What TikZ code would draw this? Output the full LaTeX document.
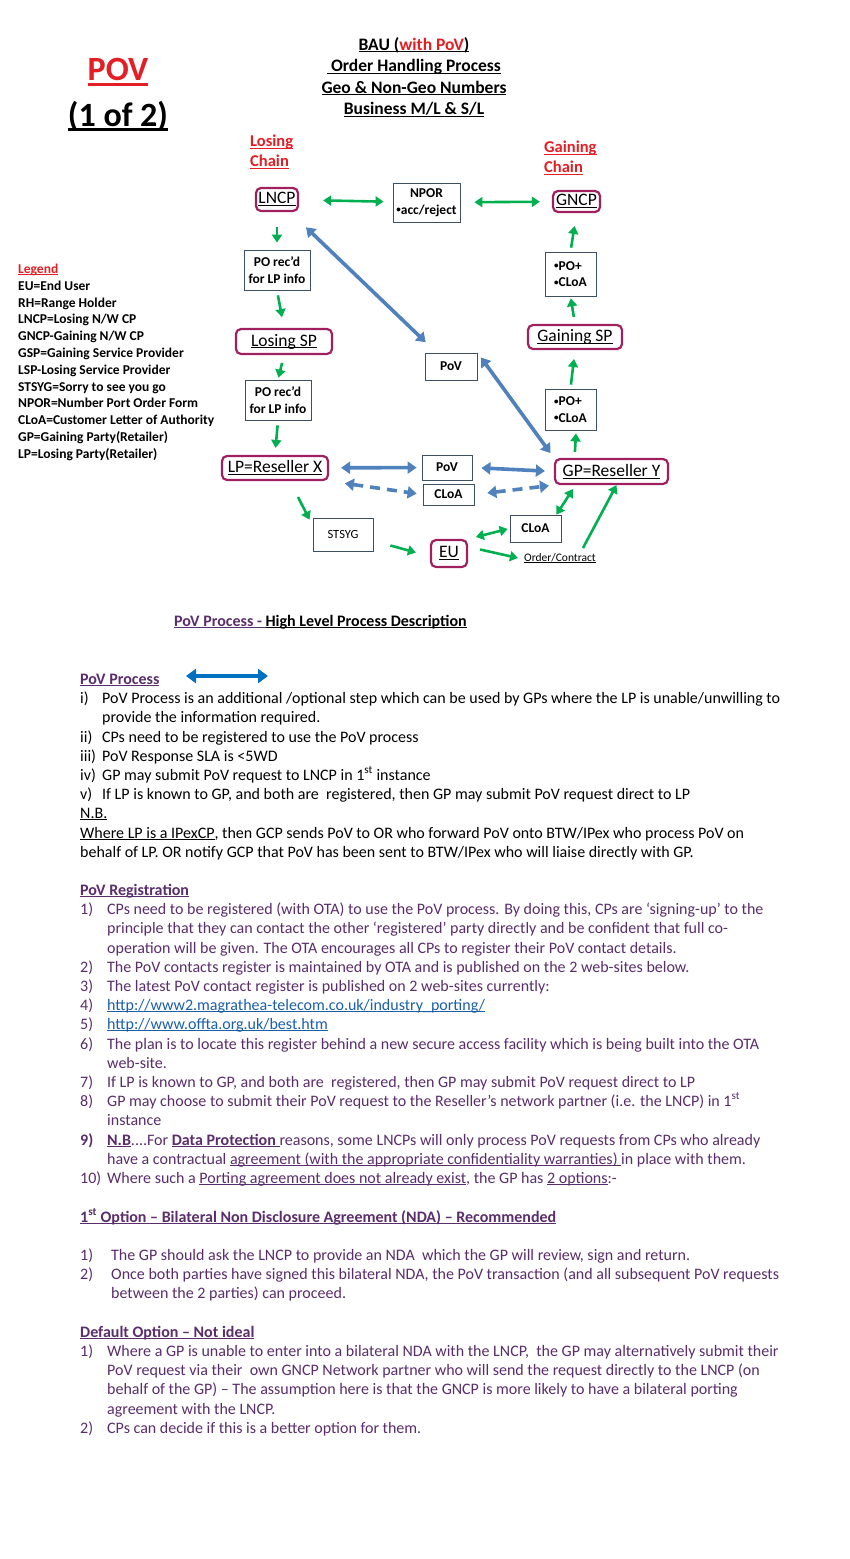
\documentclass[tikz,border=0pt]{standalone}
\usepackage{fontspec}
\setmainfont{Carlito}
\usetikzlibrary{arrows.meta,calc}

\definecolor{titlered}{HTML}{E31E24}
\definecolor{boxred}{HTML}{A0205F}
\definecolor{boxgray}{HTML}{3E5060}
\definecolor{arrgreen}{HTML}{00B050}
\definecolor{arrblue}{HTML}{4F81BD}
\definecolor{procblue}{HTML}{0070C0}
\definecolor{purp}{HTML}{5A2D6B}
\definecolor{linkblue}{HTML}{1B5FA8}

\newsavebox{\ulinebox}
\newcommand{\uline}[1]{\leavevmode\sbox{\ulinebox}{#1}%
  \rlap{\rule[-0.14em]{\wd\ulinebox}{0.07em}}\usebox{\ulinebox}}
\newcommand{\sbul}{\raisebox{0.12em}{\fontsize{9}{9}\selectfont•}}
\newcommand{\bodyfont}{\fontsize{16}{19.4}\selectfont}
\newcommand{\boxfont}{\fontsize{17.5}{20}\selectfont}
\newcommand{\smallfont}{\fontsize{13.5}{16.5}\selectfont\bfseries}

\tikzset{
  rbox/.style={draw=boxred, line width=2.2pt, rounded corners=5pt, inner sep=1pt, font=\boxfont},
  sbox/.style={draw=boxgray, line width=0.8pt, inner sep=1pt, align=center, font=\smallfont},
  garr/.style={draw=arrgreen, line width=2.6pt, -{Triangle[length=8pt,width=10pt]}},
  gdarr/.style={draw=arrgreen, line width=2.6pt, {Triangle[length=8pt,width=10pt]}-{Triangle[length=8pt,width=10pt]}},
  barr/.style={draw=arrblue, line width=3.6pt, {Triangle[length=9pt,width=12pt]}-{Triangle[length=9pt,width=12pt]}},
  bdash/.style={barr, dash pattern=on 10pt off 7pt},
  parr/.style={draw=procblue, line width=4.5pt, {Triangle[length=10pt,width=14pt]}-{Triangle[length=10pt,width=14pt]}},
  legtxt/.style={anchor=base west, inner sep=0pt, font=\fontsize{13.5}{16.8}\selectfont\bfseries},
  txt/.style={anchor=base west, inner sep=0pt, font=\bodyfont},
  ptxt/.style={txt, text=purp}
}

\begin{document}
\begin{tikzpicture}[x=1pt,y=-1pt]
\useasboundingbox[fill=white] (0,0) rectangle (850,1559);

% titles
\node[font=\fontsize{34}{40}\selectfont\bfseries, text=titlered] (pov) at (118,72) {\uline{POV}};
\node[font=\fontsize{34}{40}\selectfont\bfseries] (part) at (118,116) {\uline{(1 of 2)}};
\node[font=\fontsize{17.5}{21.5}\selectfont\bfseries, align=center] (bau) at (414,77)
  {\uline{BAU (\textcolor{titlered}{with PoV})}\\ \uline{ Order Handling Process}\\
   \uline{Geo \& Non-Geo Numbers}\\ \uline{Business M/L \& S/L}};
\node[font=\fontsize{16.5}{20}\selectfont\bfseries, text=titlered, align=left, anchor=west,
  inner sep=0pt] (lchain) at (250,152) {\uline{Losing}\\ \uline{Chain}};
\node[font=\fontsize{16.5}{20}\selectfont\bfseries, text=titlered, align=left, anchor=west,
  inner sep=0pt] (gchain) at (544,158) {\uline{Gaining}\\ \uline{Chain}};

% legend
\node[legtxt, text=titlered] (leg) at (18,273.5) {\uline{Legend}};
\foreach \t [count=\i] in {EU=End User, RH=Range Holder, LNCP=Losing N/W CP,
  GNCP-Gaining N/W CP, GSP=Gaining Service Provider, LSP-Losing Service Provider,
  STSYG=Sorry to see you go, NPOR=Number Port Order Form,
  CLoA=Customer Letter of Authority, GP=Gaining Party(Retailer), LP=Losing Party(Retailer)}
  \node[legtxt] (leg\i) at (18,273.5+16.8*\i) {\t};

% parties
\node[rbox, minimum width=42, minimum height=23] (lncp) at (277,199.5) {\uline{LNCP}};
\node[rbox, minimum width=47, minimum height=21] (gncp) at (576.5,201.5) {\uline{GNCP}};
\node[rbox, minimum width=96, minimum height=25] (lsp) at (284,341.5) {\uline{Losing SP}};
\node[rbox, minimum width=94, minimum height=24] (gsp) at (575,337) {\uline{Gaining SP}};
\node[rbox, minimum width=106, minimum height=24] (lp) at (275,468) {\uline{LP=Reseller X}};
\node[rbox, minimum width=113, minimum height=25] (gp) at (611.5,471.5) {\uline{GP=Reseller Y}};
\node[rbox, minimum width=36, minimum height=27] (eu) at (449,553.5) {\uline{EU}};

% steps
\node[sbox, minimum width=67, minimum height=39] (npor) at (426.5,202.5) {NPOR\\\sbul acc/reject};
\node[sbox, minimum width=66, minimum height=40] (po1) at (277,270) {PO rec’d\\for LP info};
\node[sbox, minimum width=66, minimum height=40] (po2) at (278,400) {PO rec’d\\for LP info};
\node[sbox, minimum width=51, minimum height=44, align=left] (pocl1) at (570.5,274) {\sbul PO+\\\sbul CLoA};
\node[sbox, minimum width=51, minimum height=41, align=left] (pocl2) at (570.5,409.5) {\sbul PO+\\\sbul CLoA};
\node[sbox, minimum width=52, minimum height=27] (pov1) at (451,366.5) {PoV};
\node[sbox, minimum width=50, minimum height=25] (pov2) at (447,467.5) {PoV};
\node[sbox, minimum width=51, minimum height=21] (cloa1) at (448.5,494.5) {CLoA};
\node[sbox, minimum width=51, minimum height=27] (cloa2) at (535.5,528.5) {CLoA};
\node[sbox, minimum width=60, minimum height=33, font=\fontsize{12.5}{15}\selectfont] (stsyg) at (343,534.5) {STSYG};
\node[font=\fontsize{11.5}{14}\selectfont, inner sep=1pt] (oc) at (560,558) {\uline{Order/Contract}};

% losing chain
\draw[gdarr, shorten <=24pt, shorten >=9pt] (lncp) -- (npor);
\draw[gdarr, shorten <=14pt, shorten >=12pt] (npor) -- (gncp);
\draw[garr, shorten <=15pt, shorten >=7pt] (lncp.south) -- (po1.north);
\draw[garr, shorten <=5pt, shorten >=11pt] (po1.south) -- (lsp.north);
\draw[garr, shorten <=8pt, shorten >=2pt] (lsp.south) -- (po2.north);
\draw[garr, shorten <=5pt, shorten >=7pt] (po2.south) -- (lp.north);

% gaining chain
\draw[garr] ($(gp.north west)+(21,-6)$) -- ($(pocl2.south)+(5.5,3)$);
\draw[garr, shorten <=4pt, shorten >=9pt] (pocl2.north) -- (gsp.south);
\draw[garr, shorten <=7pt, shorten >=2pt] (gsp.north) -- (pocl1.south);
\draw[garr, shorten <=4pt, shorten >=13pt] (pocl1.north) -- (gncp.south);

% PoV
\draw[barr, shorten <=22pt, shorten >=15pt] (lncp) -- (pov1);
\draw[barr, shorten <=6pt, shorten >=6pt] (pov1.north east) -- (gp.north west);
\draw[barr, shorten <=12pt, shorten >=5pt] (lp) -- (pov2);
\draw[barr, shorten <=9pt, shorten >=9pt] (pov2.east) -- (gp.west);
\draw[bdash, shorten <=16pt, shorten >=6pt] (lp.south east) -- (cloa1.west);
\draw[bdash, shorten <=13pt, shorten >=5pt] (cloa1.east) -- (gp.south west);

% end user
\draw[garr] ($(lp.south)+(23,16)$) -- ($(stsyg.north west)+(-3,2)$);
\draw[garr] ($(stsyg.east)+(17,11)$) -- ($(eu.west)+(-14,-1)$);
\draw[gdarr, shorten <=8pt, shorten >=2pt] (eu.north east) -- (cloa2.west);
\draw[gdarr] ($(cloa2.north east)+(-5,0)$) -- ($(gp.south west)+(19,4)$);
\draw[garr] ($(eu.east)+(12,-4)$) -- ($(oc.west)+(-5,0)$);
\draw[garr] ($(oc.north)+(23,-4)$) -- ($(gp.south)+(5,0)$);

% description
\node[txt, font=\bodyfont\bfseries] (hl) at (174,626)
  {\textcolor{purp}{\uline{PoV Process - }}\uline{High Level Process Description}};

\node[ptxt, font=\bodyfont\bfseries] (ph) at (80,684) {\uline{PoV Process}};
\coordinate (pa) at (186,676);
\coordinate (pb) at (268,676);
\draw[parr] (pa) -- (pb);
\node[txt] (p1) at (80,703) {\makebox[22pt][l]{i)}PoV Process is an additional /optional step which can be used by GPs where the LP is unable/unwilling to};
\node[txt] (p1b) at (102,722) {provide the information required.};
\node[txt] (p2) at (80,742) {\makebox[22pt][l]{ii)}CPs need to be registered to use the PoV process};
\node[txt] (p3) at (80,761) {\makebox[22pt][l]{iii)}PoV Response SLA is <5WD};
\node[txt] (p4) at (80,780) {\makebox[22pt][l]{iv)}GP may submit PoV request to LNCP in 1\textsuperscript{st} instance};
\node[txt] (p5) at (80,799) {\makebox[22pt][l]{v)}If LP is known to GP, and both are\ \ registered, then GP may submit PoV request direct to LP};
\node[txt] (nb) at (80,818) {\uline{N.B.}};
\node[txt] (nb1) at (80,838) {\uline{Where LP is a IPexCP}, then GCP sends PoV to OR who forward PoV onto BTW/IPex who process PoV on};
\node[txt] (nb2) at (80,857) {behalf of LP. OR notify GCP that PoV has been sent to BTW/IPex who will liaise directly with GP.};

% registration
\node[ptxt, font=\bodyfont\bfseries] (rh) at (80,895) {\uline{PoV Registration}};
\node[ptxt] (r1) at (80,914) {\makebox[27pt][l]{1)}CPs need to be registered (with OTA) to use the PoV process. By doing this, CPs are ‘signing-up’ to the};
\node[ptxt] (r1b) at (107,933) {principle that they can contact the other ‘registered’ party directly and be confident that full co-};
\node[ptxt] (r1c) at (107,953) {operation will be given. The OTA encourages all CPs to register their PoV contact details.};
\node[ptxt] (r2) at (80,972) {\makebox[27pt][l]{2)}The PoV contacts register is maintained by OTA and is published on the 2 web-sites below.};
\node[ptxt] (r3) at (80,991) {\makebox[27pt][l]{3)}The latest PoV contact register is published on 2 web-sites currently:};
\node[ptxt] (r4) at (80,1010) {\makebox[27pt][l]{4)}\textcolor{linkblue}{\uline{http://www2.magrathea-telecom.co.uk/industry\_porting/}}};
\node[ptxt] (r5) at (80,1029) {\makebox[27pt][l]{5)}\textcolor{linkblue}{\uline{http://www.offta.org.uk/best.htm}}};
\node[ptxt] (r6) at (80,1049) {\makebox[27pt][l]{6)}The plan is to locate this register behind a new secure access facility which is being built into the OTA};
\node[ptxt] (r6b) at (107,1068) {web-site.};
\node[ptxt] (r7) at (80,1087) {\makebox[27pt][l]{7)}If LP is known to GP, and both are\ \ registered, then GP may submit PoV request direct to LP};
\node[ptxt] (r8) at (80,1106) {\makebox[27pt][l]{8)}GP may choose to submit their PoV request to the Reseller’s network partner (i.e. the LNCP) in 1\textsuperscript{st}};
\node[ptxt] (r8b) at (107,1125) {instance};
\node[ptxt] (r9) at (80,1145) {\makebox[27pt][l]{\bfseries 9)}\textbf{\uline{N.B}}....For \textbf{\uline{Data Protection }}reasons, some LNCPs will only process PoV requests from CPs who already};
\node[ptxt] (r9b) at (107,1164) {have a contractual \uline{agreement (with the appropriate confidentiality warranties) }in place with them.};
\node[ptxt] (r10) at (80,1183) {\makebox[27pt][l]{10)}Where such a \uline{Porting agreement does not already exist}, the GP has \uline{2 options}:-};

% options
\node[ptxt, font=\bodyfont\bfseries] (oh) at (80,1222) {\uline{1\textsuperscript{st} Option – Bilateral Non Disclosure Agreement (NDA) – Recommended}};
\node[ptxt] (o1) at (80,1260) {\makebox[31pt][l]{1)}The GP should ask the LNCP to provide an NDA\ \ which the GP will review, sign and return.};
\node[ptxt] (o2) at (80,1279) {\makebox[31pt][l]{2)}Once both parties have signed this bilateral NDA, the PoV transaction (and all subsequent PoV requests};
\node[ptxt] (o2b) at (111,1298) {between the 2 parties) can proceed.};

\node[ptxt, font=\bodyfont\bfseries] (dh) at (80,1337) {\uline{Default Option – Not ideal}};
\node[ptxt] (d1) at (80,1356) {\makebox[27pt][l]{1)}Where a GP is unable to enter into a bilateral NDA with the LNCP,\ \ the GP may alternatively submit their};
\node[ptxt] (d1b) at (107,1375) {PoV request via their\ \ own GNCP Network partner who will send the request directly to the LNCP (on};
\node[ptxt] (d1c) at (107,1394) {behalf of the GP) – The assumption here is that the GNCP is more likely to have a bilateral porting};
\node[ptxt] (d1d) at (107,1414) {agreement with the LNCP.};
\node[ptxt] (d2) at (80,1433) {\makebox[27pt][l]{2)}CPs can decide if this is a better option for them.};
\end{tikzpicture}
\end{document}
